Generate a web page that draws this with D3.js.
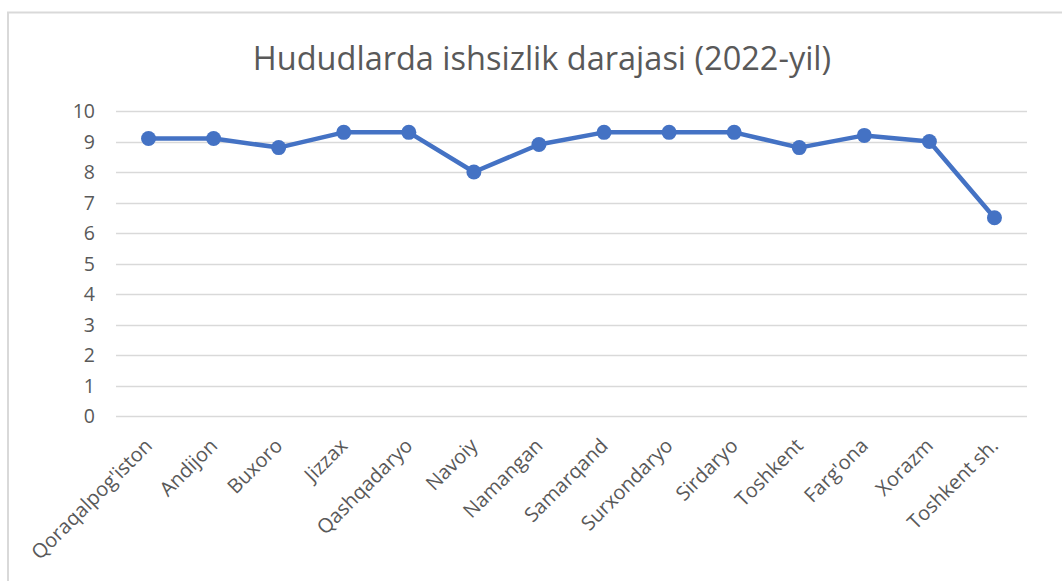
<!DOCTYPE html>
<html>
<head>
<meta charset="utf-8">
<script src="https://cdn.jsdelivr.net/npm/d3@7"></script>
<style>
  body { margin: 0; background: #fff; }
  svg { display: block; }
</style>
</head>
<body>
<svg id="chart"></svg>
<script>
const regions = ["Qoraqalpog'iston", "Andijon", "Buxoro", "Jizzax", "Qashqadaryo", "Navoiy",
    "Namangan", "Samarqand", "Surxondaryo", "Sirdaryo", "Toshkent", "Farg'ona", "Xorazm", "Toshkent sh."];
const unemployment = [9.1, 9.1, 8.8, 9.3, 9.3, 8.0, 8.9, 9.3, 9.3, 9.3, 8.8, 9.2, 9.0, 6.5];
const yTicks = [0, 1, 2, 3, 4, 5, 6, 7, 8, 9, 10];
const chartTitle = "Hududlarda ishsizlik darajasi (2022-yil)";

let width = 1062,
    height = 581;

let svg = d3.select("#chart")
    .attr("width", width)
    .attr("height", height);

// chart area border (right/bottom edges fall outside the picture)
svg.append("rect")
    .attr("x", 8)
    .attr("y", 12.5)
    .attr("width", 1100)
    .attr("height", 700)
    .attr("fill", "none")
    .attr("stroke", "#d9d9d9")
    .attr("stroke-width", 2);

let margin = {left: 116, right: 35, top: 111, bottom: 165};

let x = d3.scaleBand()
    .domain(regions)
    .range([margin.left, width - margin.right]);

let y = d3.scaleLinear()
    .domain([0, 10])
    .range([height - margin.bottom, margin.top]);

svg.append("text")
    .attr("x", 542)
    .attr("y", 70)
    .attr("text-anchor", "middle")
    .attr("font-family", "'Open Sans', sans-serif")
    .attr("font-size", 32.5)
    .attr("fill", "#595959")
    .text(chartTitle);

// gridlines
svg.append("g")
    .selectAll("line")
    .data(yTicks)
    .enter().append("line")
    .attr("x1", margin.left)
    .attr("x2", width - margin.right)
    .attr("y1", d => Math.round(y(d)) + 0.5)
    .attr("y2", d => Math.round(y(d)) + 0.5)
    .attr("stroke", "#d9d9d9")
    .attr("stroke-width", 1.5);

// y labels
svg.append("g")
    .attr("font-family", "'Open Sans', sans-serif")
    .attr("font-size", 19.5)
    .attr("fill", "#595959")
    .selectAll("text")
    .data(yTicks)
    .enter().append("text")
    .attr("x", 95)
    .attr("y", d => y(d))
    .attr("dy", "0.36em")
    .attr("text-anchor", "end")
    .text(d => d);

// x labels, rotated
svg.append("g")
    .attr("font-family", "'Open Sans', sans-serif")
    .attr("font-size", 20)
    .attr("fill", "#595959")
    .selectAll("text")
    .data(regions)
    .enter().append("text")
    .attr("transform", d => "translate(" + (x(d) + x.bandwidth() / 2 + 5) + "," + (y(0) + 31) + ") rotate(-45)")
    .attr("text-anchor", "end")
    .text(d => d);

let line = d3.line()
    .x((d, i) => x(regions[i]) + x.bandwidth() / 2)
    .y(d => y(d));

svg.append("path")
    .datum(unemployment)
    .attr("d", line)
    .attr("fill", "none")
    .attr("stroke", "#4472c4")
    .attr("stroke-width", 4.5)
    .attr("stroke-linejoin", "round");

svg.append("g")
    .selectAll("circle")
    .data(unemployment)
    .enter().append("circle")
    .attr("cx", (d, i) => x(regions[i]) + x.bandwidth() / 2)
    .attr("cy", d => y(d))
    .attr("r", 7.5)
    .attr("fill", "#4472c4");
</script>
</body>
</html>
